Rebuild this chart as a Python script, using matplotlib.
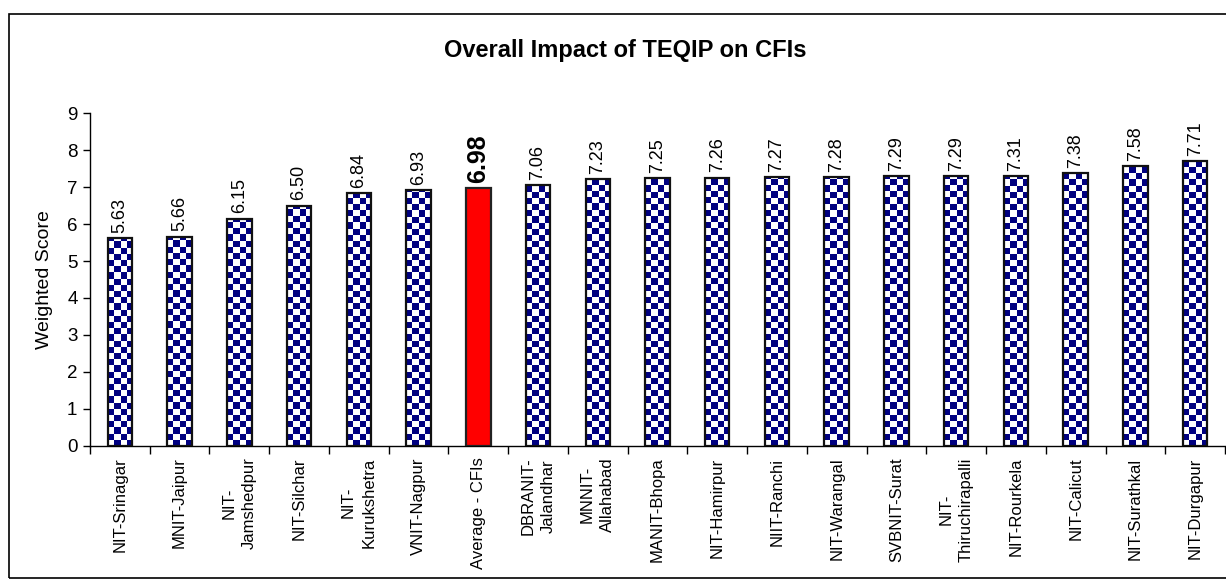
import numpy as np
import matplotlib
matplotlib.use("Agg")
import matplotlib.pyplot as plt
from matplotlib.colors import ListedColormap
from matplotlib.patches import Rectangle

plt.rcParams['font.family'] = ['Liberation Sans', 'DejaVu Sans']

categories = ["NIT-Srinagar", "MNIT-Jaipur", "NIT-\nJamshedpur", "NIT-Silchar", "NIT-\nKurukshetra",
              "VNIT-Nagpur", "Average - CFIs", "DBRANIT-\nJalandhar", "MNNIT-\nAllahabad", "MANIT-Bhopa",
              "NIT-Hamirpur", "NIIT-Ranchi", "NIT-Warangal", "SVBNIT-Surat", "NIT-\nThiruchirapalli",
              "NIT-Rourkela", "NIT-Calicut", "NIT-Surathkal", "NIT-Durgapur"]
scores = [5.63, 5.66, 6.15, 6.50, 6.84, 6.93, 6.98, 7.06, 7.23, 7.25,
          7.26, 7.27, 7.28, 7.29, 7.29, 7.31, 7.38, 7.58, 7.71]
highlight = "Average - CFIs"
yticks = list(range(0, 10))

W, H = 1226, 581
fig = plt.figure(figsize=(W / 100, H / 100), dpi=100)
ax_l, ax_r, ax_b, ax_t = 90, 1225, 445.7, 113.3
ax = fig.add_axes([ax_l / W, (H - ax_b) / H, (ax_r - ax_l) / W, (ax_b - ax_t) / H])

n = len(categories)
x = np.arange(n)

bar_w = 0.41
cmap = ListedColormap(['white', '#000080'])
px_x = (ax_r - ax_l) / n
px_y = (ax_b - ax_t) / 9
cell = 6.2
cx, cy = cell / px_x, cell / px_y

for i, (cat, v) in enumerate(zip(categories, scores)):
    if cat == highlight:
        ax.bar(i, v, width=bar_w, color='#FF0000', edgecolor='#222222', linewidth=1.6, zorder=3)
        ax.text(i, v + 0.14, f"{v:.2f}", rotation=90, ha='center', va='bottom',
                fontsize=18, fontweight='bold', zorder=5)
    else:
        bars = ax.bar(i, v, width=bar_w, color='none', edgecolor='#111111', linewidth=1.6, zorder=4)
        patch = bars[0]
        left = i - bar_w / 2
        nc = int(np.ceil(bar_w / cx)) + 1
        nr = int(np.ceil(v / cy)) + 1
        board = (np.add.outer(np.arange(nr), np.arange(nc)) % 2)
        im = ax.imshow(board, cmap=cmap, interpolation='nearest', origin='lower',
                       extent=(left, left + nc * cx, 0, nr * cy), aspect='auto', zorder=3)
        im.set_clip_path(patch)
        ax.text(i, v + 0.14, f"{v:.2f}", rotation=90, ha='center', va='bottom',
                fontsize=13, zorder=5)

ax.set_xlim(-0.5, n - 0.5)
ax.set_ylim(0, 9)

ax.spines['top'].set_visible(False)
ax.spines['right'].set_visible(False)
ax.spines['left'].set_linewidth(1.0)
ax.spines['bottom'].set_linewidth(1.0)

ax.set_yticks(yticks)
ax.set_yticklabels([str(t) for t in yticks], fontsize=13.5)
ax.tick_params(axis='y', direction='out', length=5, width=1, pad=4)

ax.set_xticks(x)
ax.set_xticklabels([])
ax.set_xticks(np.arange(-0.5, n, 1.0), minor=True)
ax.tick_params(axis='x', which='major', length=0)
ax.tick_params(axis='x', which='minor', direction='out', length=6, width=1)

for i, cat in enumerate(categories):
    ax.text(i, -0.32, cat, rotation=90, ha='center', va='top', multialignment='center',
            fontsize=12, linespacing=1.45, clip_on=False)

ax.set_ylabel("Weighted Score", fontsize=14, labelpad=10)

fig.text(625 / W, 1 - 50 / H, "Overall Impact of TEQIP on CFIs", ha='center', va='center',
         fontsize=17, fontweight='bold')

border = Rectangle((9 / W, 1 - 578 / H), 1.2, (578 - 14) / H, transform=fig.transFigure,
                   fill=False, edgecolor='black', linewidth=1.2, clip_on=False)
fig.patches.append(border)

fig.savefig("out.png", dpi=100)
